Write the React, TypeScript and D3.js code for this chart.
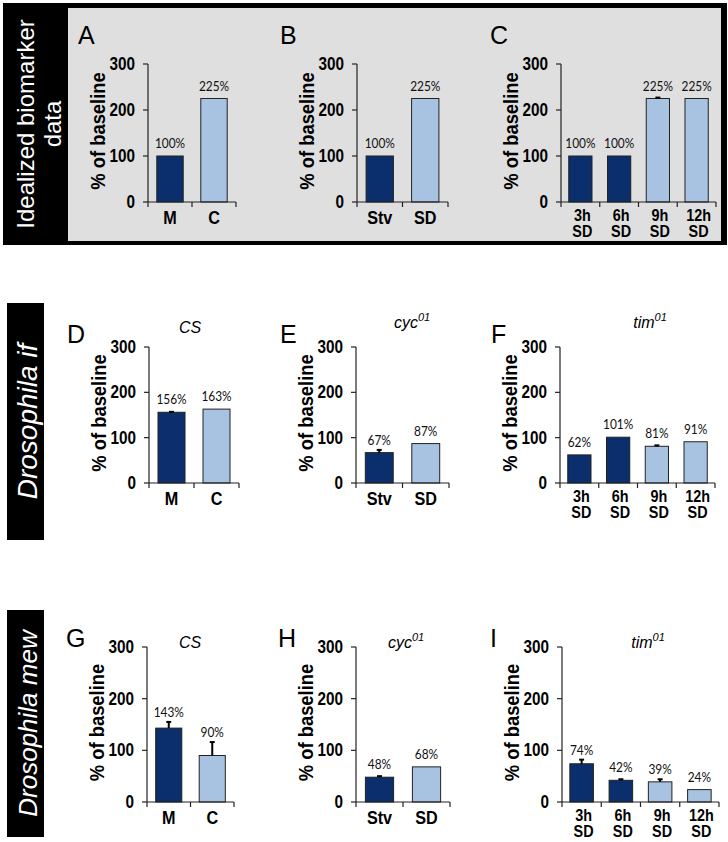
import React from "react";
import * as d3 from "d3";

// ---------- data ----------
const catsMC = ["M", "C"];
const catsStv = ["Stv", "SD"];
const catsTime = ["3h SD", "6h SD", "9h SD", "12h SD"];
const yTicks = [0, 100, 200, 300];

const valsA = [100, 225];
const valsB = [100, 225];
const valsC = [100, 100, 225, 225];
const errsC = [0, 0, 2, 0];
const valsD = [156, 163];
const errsD = [1, 0];
const valsE = [67, 87];
const errsE = [6, 0];
const valsF = [62, 101, 81, 91];
const errsF = [0, 0, 2, 0];
const valsG = [143, 90];
const errsG = [12, 26];
const valsH = [48, 68];
const errsH = [2, 0];
const valsI = [74, 42, 39, 24];
const errsI = [8, 2, 5, 0];

const DARK = "#0b2e6c";
const LIGHT = "#a8c2e2";
const colors2 = [DARK, LIGHT];
const colors4 = [DARK, DARK, LIGHT, LIGHT];

const SANS = "'Liberation Sans', Arial, sans-serif";
const LABEL = "Lato, 'Open Sans', sans-serif";

// text with horizontal condensing
function T({ x, y, sx = 1, rot = 0, children, ...rest }: any) {
  return (
    <text transform={`translate(${x},${y})${rot ? ` rotate(${rot})` : ""} scale(${sx},1)`} {...rest}>
      {children}
    </text>
  );
}

type PanelProps = {
  x0: number; w: number; y0: number; y300: number;
  cats: string[]; vals: number[]; errs?: number[]; colors: string[];
  letter: string; letterX: number; letterY: number;
  title?: React.ReactNode; titleX?: number; titleY?: number;
};

function Panel(p: PanelProps) {
  const x = d3.scaleBand<string>().domain(p.cats).range([p.x0, p.x0 + p.w]);
  const y = d3.scaleLinear().domain([0, 300]).range([p.y0, p.y300]);
  const bw = x.bandwidth() * 0.6;
  const bounds = [...p.cats.map((c) => x(c) as number), p.x0 + p.w];
  const multi = p.cats.length > 2;
  return (
    <g>
      <text x={p.letterX} y={p.letterY} fontFamily={SANS} fontSize={25} fill="#000">{p.letter}</text>
      {p.title && (
        <text x={p.titleX} y={p.titleY} fontFamily={SANS} fontSize={16} fontStyle="italic" textAnchor="middle">{p.title}</text>
      )}
      {p.cats.map((c, i) => {
        const cx = (x(c) as number) + x.bandwidth() / 2;
        const top = y(p.vals[i]);
        const e = p.errs ? p.errs[i] : 0;
        const errTop = y(p.vals[i] + e);
        const labelY = Math.min(top - 8, errTop - 5);
        return (
          <g key={c}>
            <rect x={cx - bw / 2} y={top} width={bw} height={p.y0 - top} fill={p.colors[i]} stroke="#222" strokeWidth={1} />
            {e > 0 && (
              <g stroke="#000" strokeWidth={2}>
                <line x1={cx} x2={cx} y1={top} y2={errTop} />
                <line x1={cx - 2.5} x2={cx + 2.5} y1={errTop} y2={errTop} />
              </g>
            )}
            <T x={cx} y={labelY} sx={0.85} textAnchor="middle" fontFamily={LABEL} fontSize={14} fill="#111">{p.vals[i]}%</T>
            <T x={cx + (multi ? 2 : 0)} y={p.y0 + (multi ? 19 : 22)} sx={0.9} textAnchor="middle" fontFamily={SANS} fontWeight="bold" fontSize={multi ? 16 : 18}>
              {c.split(" ").map((ln, j) => (
                <tspan key={j} x={0} dy={j === 0 ? 0 : 16}>{ln}</tspan>
              ))}
            </T>
          </g>
        );
      })}
      <line x1={p.x0} x2={p.x0} y1={p.y0} y2={y(300)} stroke="#222" strokeWidth={1.2} />
      {yTicks.map((t) => (
        <g key={t}>
          <line x1={p.x0 - 5} x2={p.x0} y1={y(t)} y2={y(t)} stroke="#222" strokeWidth={1.2} />
          <T x={p.x0 - 13} y={y(t) + 6} sx={0.85} textAnchor="end" fontFamily={SANS} fontWeight="bold" fontSize={18}>{t}</T>
        </g>
      ))}
      <T x={p.x0 - 43} y={(p.y0 + y(300)) / 2 - 2} rot={-90} sx={0.92} textAnchor="middle" fontFamily={SANS} fontWeight="bold" fontSize={20}>% of baseline</T>
      <line x1={p.x0} x2={p.x0 + p.w} y1={p.y0} y2={p.y0} stroke="#222" strokeWidth={1.2} />
      {bounds.map((b, i) => (
        <line key={i} x1={b} x2={b} y1={p.y0} y2={p.y0 + 5} stroke="#222" strokeWidth={1.2} />
      ))}
    </g>
  );
}

function SideBox({ x, y, w, h, lines, italic, size }: { x: number; y: number; w: number; h: number; lines: string[]; italic?: boolean; size: number }) {
  const cy = y + h / 2;
  return (
    <g>
      <rect x={x} y={y} width={w} height={h} fill="#000" />
      {lines.map((l, i) => (
        <text key={i} transform={`translate(${x + (italic ? 30 : 31) + i * 27},${cy}) rotate(-90)`} textAnchor="middle" fontFamily={SANS} fontStyle={italic ? "italic" : "normal"} fontSize={size} fill="#fff">{l}</text>
      ))}
    </g>
  );
}

const sup = (base: string, s: string) => (
  <>
    {base}
    <tspan fontSize={11} dy={-7}>{s}</tspan>
  </>
);

export default function App() {
  return (
    <svg width={728} height={842} style={{ position: "absolute", left: 0, top: 0, background: "#fff" }}>
      <rect x={3} y={3} width={724} height={242} fill="#000" />
      <rect x={68} y={8} width={653} height={233} fill="#dfdfdf" />
      <SideBox x={3} y={3} w={65} h={242} lines={["Idealized biomarker", "data"]} size={24} />

      <Panel x0={148} w={88} y0={202} y300={64} cats={catsMC} vals={valsA} colors={colors2} letter="A" letterX={78} letterY={44} />
      <Panel x0={357} w={91} y0={202} y300={64} cats={catsStv} vals={valsB} colors={colors2} letter="B" letterX={280} letterY={44} />
      <Panel x0={561} w={155} y0={202} y300={64} cats={catsTime} vals={valsC} errs={errsC} colors={colors4} letter="C" letterX={490} letterY={44} />

      <SideBox x={7} y={303} w={37} h={237} lines={["Drosophila if"]} italic size={28} />
      <Panel x0={149} w={90} y0={483} y300={347} cats={catsMC} vals={valsD} errs={errsD} colors={colors2} letter="D" letterX={67} letterY={343} title="CS" titleX={190} titleY={333} />
      <Panel x0={356} w={93} y0={483} y300={347} cats={catsStv} vals={valsE} errs={errsE} colors={colors2} letter="E" letterX={280} letterY={343} title={sup("cyc", "01")} titleX={412} titleY={328} />
      <Panel x0={560} w={155} y0={483} y300={347} cats={catsTime} vals={valsF} errs={errsF} colors={colors4} letter="F" letterX={491} letterY={343} title={sup("tim", "01")} titleX={650} titleY={328} />

      <SideBox x={7} y={610} w={37} h={227} lines={["Drosophila mew"]} italic size={26} />
      <Panel x0={147} w={87} y0={802} y300={647} cats={catsMC} vals={valsG} errs={errsG} colors={colors2} letter="G" letterX={66} letterY={647} title="CS" titleX={190} titleY={648} />
      <Panel x0={356} w={94} y0={802} y300={647} cats={catsStv} vals={valsH} errs={errsH} colors={colors2} letter="H" letterX={278} letterY={647} title={sup("cyc", "01")} titleX={406} titleY={648} />
      <Panel x0={562} w={157} y0={802} y300={647} cats={catsTime} vals={valsI} errs={errsI} colors={colors4} letter="I" letterX={490} letterY={647} title={sup("tim", "01")} titleX={648} titleY={648} />
    </svg>
  );
}
